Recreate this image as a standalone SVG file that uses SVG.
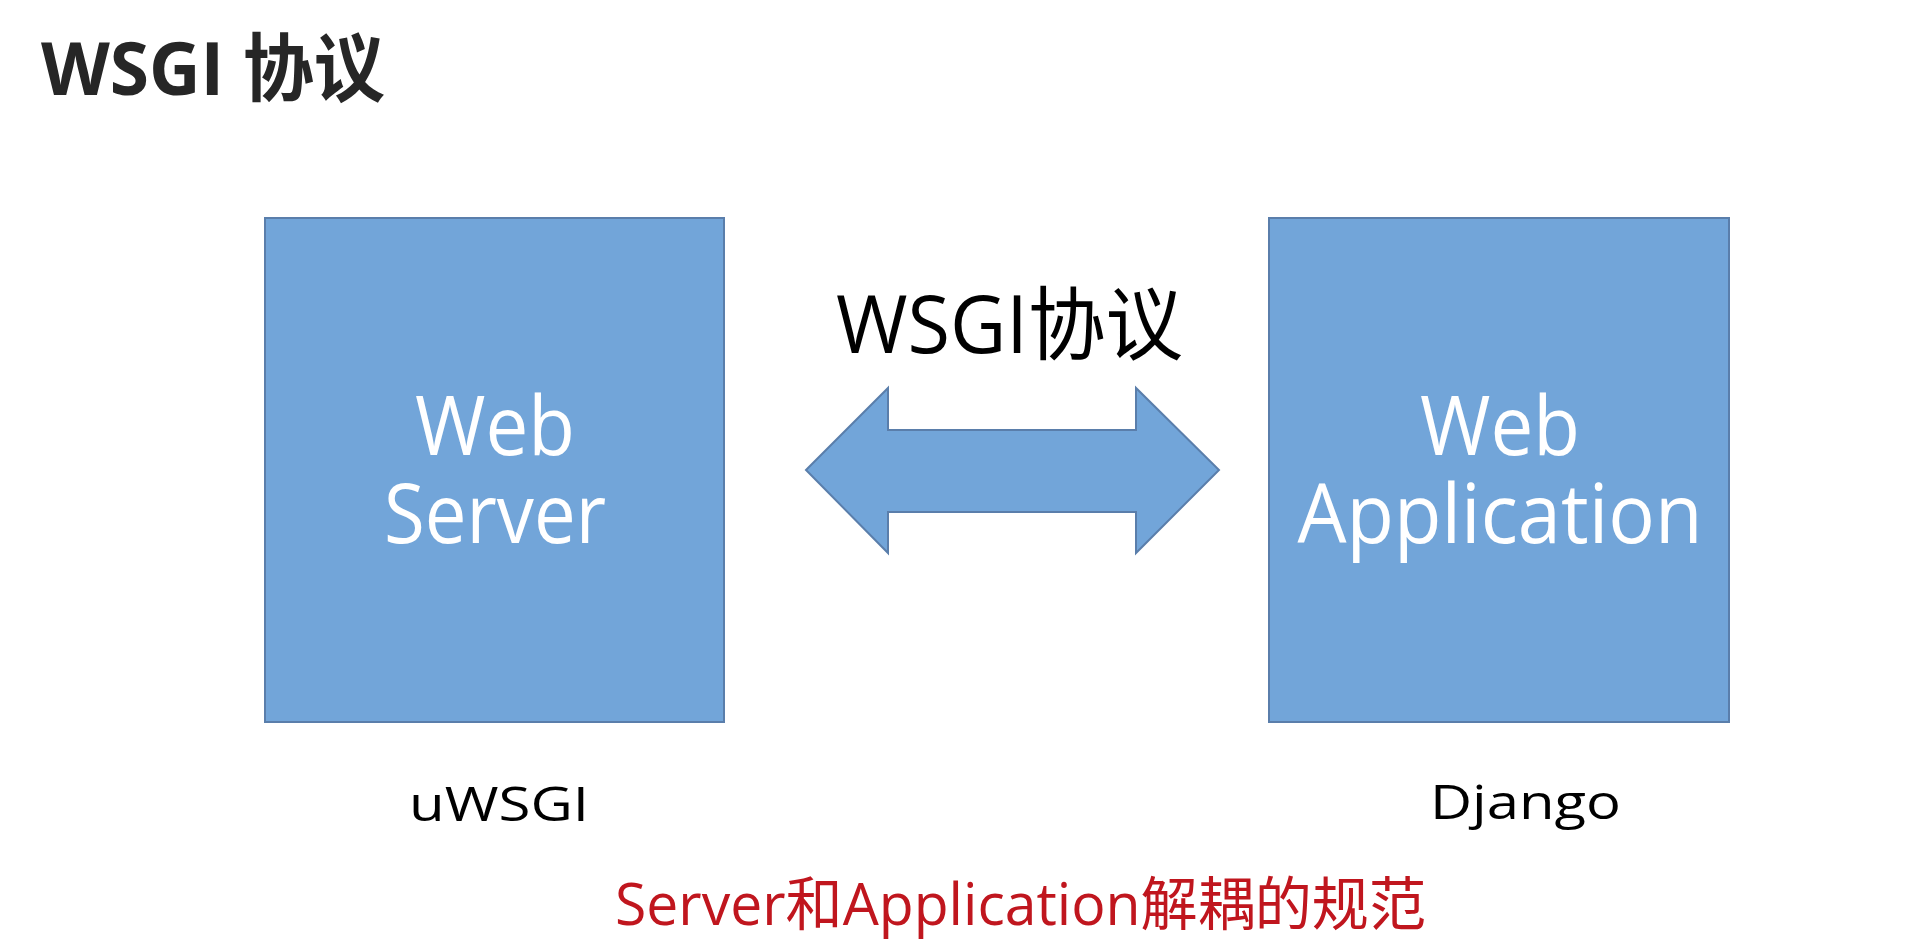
<svg xmlns="http://www.w3.org/2000/svg" width="1928" height="948" viewBox="0 0 1928 948">
<style>
.t{font-family:"Open Sans","Noto Sans","Noto Sans CJK SC",sans-serif;}
.box{fill:#72a5d9;stroke:#5a7eab;stroke-width:2;}
.inner{fill:#ffffff;font-size:82px;text-anchor:middle;}
.lbl{fill:#000000;font-size:48px;}
</style>
<rect width="1928" height="948" fill="#ffffff"/>
<text class="t" x="41" y="95" font-size="74" font-weight="bold" fill="#262626" textLength="344" lengthAdjust="spacingAndGlyphs">WSGI 协议</text>
<g id="node-web-server">
<rect class="box" x="265" y="218" width="459" height="504"/>
<text class="t inner" x="495" y="455" textLength="160" lengthAdjust="spacingAndGlyphs">Web</text>
<text class="t inner" x="495" y="543" textLength="222" lengthAdjust="spacingAndGlyphs">Server</text>
</g>
<g id="node-web-application">
<rect class="box" x="1269" y="218" width="460" height="504"/>
<text class="t inner" x="1500" y="455" textLength="160" lengthAdjust="spacingAndGlyphs">Web</text>
<text class="t inner" x="1500" y="543" textLength="405" lengthAdjust="spacingAndGlyphs">Application</text>
</g>
<g id="connectors">
<polygon class="box" points="806,470 888,388 888,430 1136,430 1136,388 1219,470 1136,553 1136,512 888,512 888,553"/>
<text class="t" x="836" y="353" font-size="80" fill="#000000" textLength="347" lengthAdjust="spacingAndGlyphs">WSGI协议</text>
</g>
<g id="label-uwsgi">
<text class="t lbl" x="409" y="821" textLength="180" lengthAdjust="spacingAndGlyphs">uWSGI</text>
</g>
<g id="label-django">
<text class="t lbl" x="1430" y="819" textLength="191" lengthAdjust="spacingAndGlyphs">Django</text>
</g>
<text class="t" x="615" y="925" font-size="58" fill="#c0161e" textLength="811" lengthAdjust="spacingAndGlyphs">Server和Application解耦的规范</text>
</svg>
